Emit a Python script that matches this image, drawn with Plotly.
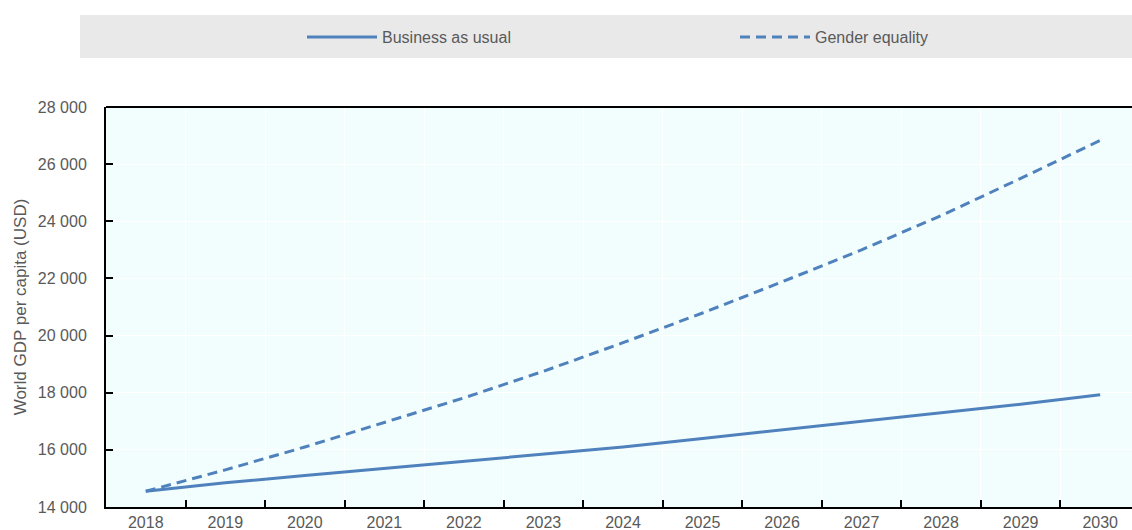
import plotly.graph_objects as go

years = [str(y) for y in range(2018, 2031)]
business_as_usual = [14550, 14850, 15100, 15350, 15600, 15850, 16100, 16400, 16700, 17000, 17300, 17600, 17930]
gender_equality = [14550, 15300, 16100, 16950, 17820, 18750, 19750, 20790, 21880, 23000, 24200, 25500, 26830]

FONT = "Liberation Sans Narrow, Arial Narrow, Liberation Sans, Arial, sans-serif"
GREY = "#595959"
BLUE = "#4F81BD"

fig = go.Figure()
fig.add_trace(go.Scatter(x=years, y=business_as_usual, mode="lines", name="Business as usual",
                         line=dict(color=BLUE, width=3)))
fig.add_trace(go.Scatter(x=years, y=gender_equality, mode="lines", name="Gender equality",
                         line=dict(color=BLUE, width=3, dash="10px,6px")))

# grey legend band
fig.add_shape(type="rect", xref="paper", yref="paper", x0=-0.0253, x1=1.0, y0=1.1225, y1=1.23,
              fillcolor="#E9E9E9", line=dict(width=0), layer="below")
# top frame line
fig.add_shape(type="line", xref="paper", yref="paper", x0=0, x1=1, y0=1, y1=1,
              line=dict(color="black", width=2))

fig.update_layout(
    width=1132, height=530,
    margin=dict(l=106, r=0, t=107, b=23, autoexpand=False),
    paper_bgcolor="white",
    plot_bgcolor="#F2FDFD",
    font=dict(family=FONT, size=16, color=GREY),
    showlegend=True,
    separators=". ",
    legend=dict(orientation="h", x=(302 - 106) / 1026, xanchor="left", y=1.175, yanchor="middle",
                bgcolor="rgba(0,0,0,0)", entrywidth=348, entrywidthmode="pixels",
                font=dict(family=FONT, size=16, color=GREY), itemwidth=70),
    xaxis=dict(type="category", range=[-0.5, 12.4], tickson="boundaries",
               ticks="inside", ticklen=7, tickwidth=2, tickcolor="black",
               showline=True, linecolor="black", linewidth=2, mirror=False,
               showgrid=True, gridcolor="white", gridwidth=1,
               tickfont=dict(family=FONT, size=16, color=GREY)),
    yaxis=dict(range=[14000, 28000], dtick=2000, tickformat=",d",
               ticks="inside", ticklen=7, tickwidth=2, tickcolor="black",
               showline=True, linecolor="black", linewidth=2,
               showgrid=True, gridcolor="white", gridwidth=1, zeroline=False,
               ticklabelstandoff=14,
               title=dict(text="World GDP per capita (USD)", font=dict(family=FONT, size=17, color=GREY), standoff=7),
               tickfont=dict(family=FONT, size=16, color=GREY)),
)

fig.write_html("out.html", config={"displayModeBar": False},
               post_script="document.body.style.margin='0';")
